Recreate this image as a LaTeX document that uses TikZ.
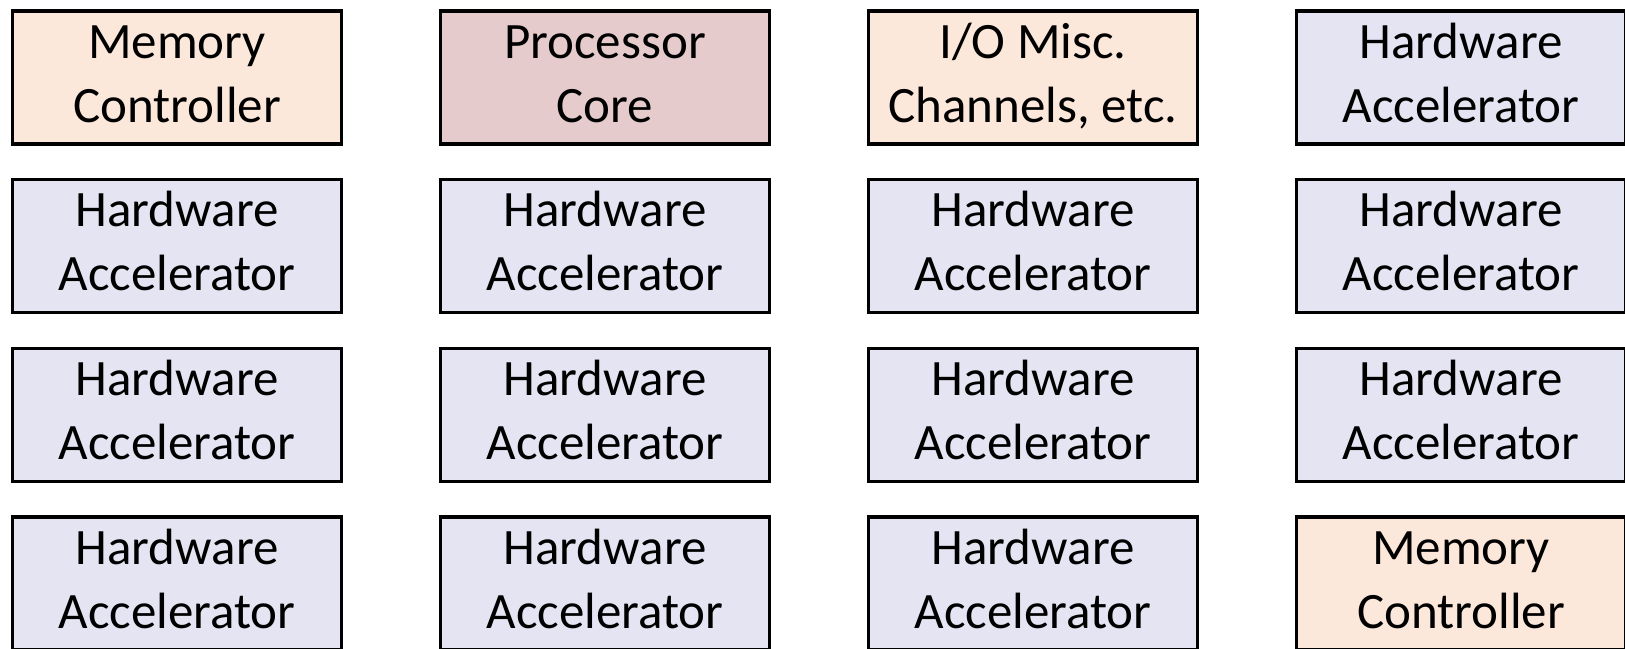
\documentclass[tikz,border=0pt]{standalone}
\usepackage{fontspec}
\setmainfont{Carlito}
\definecolor{peach}{RGB}{252,232,218}
\definecolor{corered}{RGB}{229,203,204}
\definecolor{lavender}{RGB}{228,228,242}
\begin{document}
\begin{tikzpicture}[x=1pt,y=-1pt,
  unit/.style={draw=black, line width=3.3pt, rectangle, inner sep=0pt,
    minimum width=329pt, minimum height=133pt, align=center,
    font=\fontsize{51}{64}\selectfont},
  memctl/.style={unit, fill=peach},
  iomisc/.style={unit, fill=peach},
  core/.style={unit, fill=corered},
  accel/.style={unit, fill=lavender}]
\useasboundingbox (0,0) rectangle (1625,648);
\clip (0,0) rectangle (1625,648);
% grid: column pitch 428, row pitch 168.67; box centres
\def\cx#1{#1*428+177}
\def\cy#1{#1*168.67+77.5}
% row 1
\node[memctl] (mc1) at (\cx{0},\cy{0}) {\strut Memory\\\strut Controller};
\node[core]   (pc)  at (\cx{1},\cy{0}) {\strut Processor\\\strut Core};
\node[iomisc] (io)  at (\cx{2},\cy{0}) {\strut I/O Misc.\\\strut Channels, etc.};
\node[accel]  (a14) at (\cx{3},\cy{0}) {\strut Hardware\\\strut Accelerator};
% row 2
\node[accel] (a21) at (\cx{0},\cy{1}) {\strut Hardware\\\strut Accelerator};
\node[accel] (a22) at (\cx{1},\cy{1}) {\strut Hardware\\\strut Accelerator};
\node[accel] (a23) at (\cx{2},\cy{1}) {\strut Hardware\\\strut Accelerator};
\node[accel] (a24) at (\cx{3},\cy{1}) {\strut Hardware\\\strut Accelerator};
% row 3
\node[accel] (a31) at (\cx{0},\cy{2}) {\strut Hardware\\\strut Accelerator};
\node[accel] (a32) at (\cx{1},\cy{2}) {\strut Hardware\\\strut Accelerator};
\node[accel] (a33) at (\cx{2},\cy{2}) {\strut Hardware\\\strut Accelerator};
\node[accel] (a34) at (\cx{3},\cy{2}) {\strut Hardware\\\strut Accelerator};
% row 4
\node[accel] (a41) at (\cx{0},\cy{3}) {\strut Hardware\\\strut Accelerator};
\node[accel] (a42) at (\cx{1},\cy{3}) {\strut Hardware\\\strut Accelerator};
\node[accel] (a43) at (\cx{2},\cy{3}) {\strut Hardware\\\strut Accelerator};
\node[memctl] (mc2) at (\cx{3},\cy{3}) {\strut Memory\\\strut Controller};
\end{tikzpicture}
\end{document}
